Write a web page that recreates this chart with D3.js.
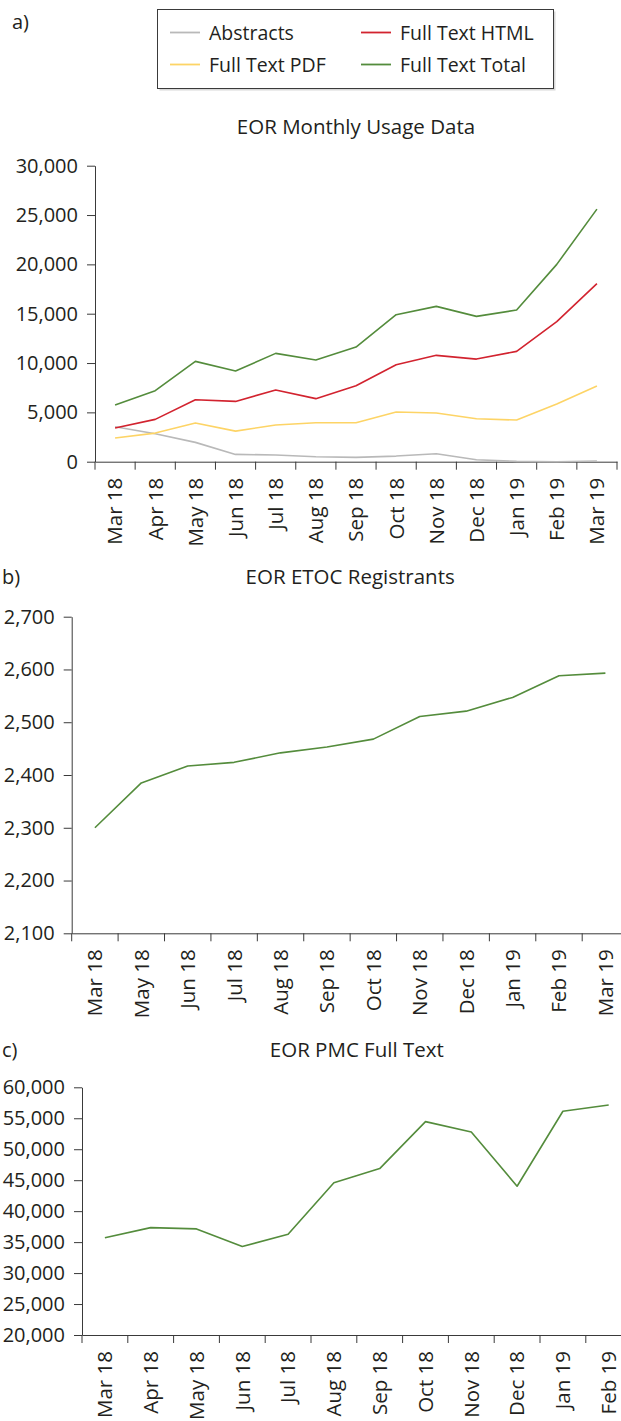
<!DOCTYPE html>
<html>
<head>
<meta charset="utf-8">
<script src="https://cdn.jsdelivr.net/npm/d3@7"></script>
<style>
    body { margin: 0; background: #fff; }
    svg { display: block; font-family: "Open Sans", sans-serif; }
    .axis path, .axis line { stroke: #3a3a3a; }
    .axis text { fill: #231f20; font-size: 20px; font-family: "Open Sans", sans-serif; }
</style>
</head>
<body>
<svg id="chart" width="621" height="1421"></svg>
<script>
// panel a: monthly usage
const usageMonths = ["Mar 18", "Apr 18", "May 18", "Jun 18", "Jul 18", "Aug 18", "Sep 18",
    "Oct 18", "Nov 18", "Dec 18", "Jan 19", "Feb 19", "Mar 19"];
const abstracts = [3550, 2840, 1960, 740, 680, 500, 440, 570, 810, 200, 30, 0, 70];
const fullTextHtml = [3410, 4290, 6280, 6110, 7260, 6390, 7700, 9830, 10780, 10400, 11180, 14190, 18040];
const fullTextPdf = [2400, 2900, 3920, 3100, 3720, 3950, 3950, 5030, 4930, 4360, 4220, 5840, 7670];
const fullTextTotal = [5750, 7200, 10170, 9190, 10980, 10300, 11620, 14900, 15740, 14730, 15370, 20000, 25600];
const usageTicks = [0, 5000, 10000, 15000, 20000, 25000, 30000];

const seriesNames = ["Abstracts", "Full Text HTML", "Full Text PDF", "Full Text Total"];
const seriesColors = ["#b9b9b9", "#d2232f", "#fdd466", "#548c3c"];

// panel b: ETOC registrants
const etocMonths = ["Mar 18", "May 18", "Jun 18", "Jul 18", "Aug 18", "Sep 18",
    "Oct 18", "Nov 18", "Dec 18", "Jan 19", "Feb 19", "Mar 19"];
const etocValues = [2300, 2385, 2417, 2424, 2442, 2453, 2468, 2511, 2521, 2547, 2588, 2593];
const etocTicks = [2100, 2200, 2300, 2400, 2500, 2600, 2700];

// panel c: PMC full text
const pmcMonths = ["Mar 18", "Apr 18", "May 18", "Jun 18", "Jul 18", "Aug 18", "Sep 18",
    "Oct 18", "Nov 18", "Dec 18", "Jan 19", "Feb 19"];
const pmcValues = [35700, 37340, 37130, 34300, 36270, 44600, 46870, 54460, 52790, 44020, 56130, 57150];
const pmcTicks = [20000, 25000, 30000, 35000, 40000, 45000, 50000, 55000, 60000];

const svg = d3.select("#chart");
const fmt = d3.format(",");

const drawPanel = (opts) => {
    const g = svg.append("g");
    const x = d3.scaleBand().domain(opts.months).range([opts.left, opts.right]);
    const y = d3.scaleLinear().domain(opts.domain).range([opts.bottom, opts.top]);

    // panel letter and title
    g.append("text")
        .attr("x", opts.letterX)
        .attr("y", opts.letterY)
        .attr("font-size", 20)
        .attr("fill", "#231f20")
        .text(opts.letter);
    g.append("text")
        .attr("x", (opts.left + opts.right) / 2)
        .attr("y", opts.titleY)
        .attr("text-anchor", "middle")
        .attr("font-size", 20.5)
        .attr("fill", "#231f20")
        .text(opts.title);

    // y axis
    g.append("g")
        .attr("class", "axis")
        .attr("transform", `translate(${opts.left},0)`)
        .call(d3.axisLeft(y).tickValues(opts.ticks).tickFormat(fmt)
            .tickSize(8).tickSizeOuter(0).tickPadding(9));

    // x axis, labels centred on bands, ticks on band edges
    const xAxis = g.append("g")
        .attr("class", "axis")
        .attr("transform", `translate(0,${opts.bottom})`)
        .call(d3.axisBottom(x).tickSize(0).tickSizeOuter(0));
    xAxis.selectAll(".tick text")
        .attr("transform", "rotate(-90)")
        .attr("x", -16)
        .attr("y", 0)
        .attr("dy", "0.36em")
        .style("font-size", "20.5px")
        .style("text-anchor", "end");
    const edges = opts.months.map((m) => x(m)).concat([opts.right]);
    xAxis.selectAll(".edge")
        .data(edges)
        .join("line")
        .attr("class", "edge")
        .attr("x1", (d) => d)
        .attr("x2", (d) => d)
        .attr("y1", 0)
        .attr("y2", 8)
        .attr("stroke", "#3a3a3a");

    const line = d3.line()
        .x((d, i) => x(opts.months[i]) + x.bandwidth() / 2)
        .y((d) => y(d));

    opts.series.forEach((s) => {
        g.append("path")
            .datum(s.values)
            .attr("d", line)
            .attr("fill", "none")
            .attr("stroke", s.color)
            .attr("stroke-width", 1.6)
            .attr("stroke-linejoin", "round");
    });
    return g;
};

// legend for panel a
const legend = svg.append("g");
legend.append("rect")
    .attr("x", 159.5)
    .attr("y", 11.5)
    .attr("width", 396)
    .attr("height", 79)
    .attr("fill", "#d8d8d8");
legend.append("rect")
    .attr("x", 157.5)
    .attr("y", 9.5)
    .attr("width", 396)
    .attr("height", 79)
    .attr("fill", "#fff")
    .attr("stroke", "#3a3a3a")
    .attr("stroke-width", 1);
const legendOrder = [0, 1, 2, 3];
legendOrder.forEach((k, i) => {
    const col = i % 2, row = Math.floor(i / 2);
    const lx = col === 0 ? 170 : 361;
    const ly = row === 0 ? 32.5 : 64.5;
    legend.append("line")
        .attr("x1", lx).attr("x2", lx + 30)
        .attr("y1", ly).attr("y2", ly)
        .attr("stroke", seriesColors[k])
        .attr("stroke-width", 1.8);
    legend.append("text")
        .attr("x", lx + 39)
        .attr("y", ly)
        .attr("dy", "0.36em")
        .attr("font-size", 19.5)
        .attr("fill", "#231f20")
        .text(seriesNames[k]);
});

drawPanel({
    letter: "a)", letterX: 12, letterY: 29, title: "EOR Monthly Usage Data", titleY: 134,
    months: usageMonths, left: 95, right: 617, top: 165.7, bottom: 461.7,
    domain: [0, 30000], ticks: usageTicks,
    series: [
        { values: abstracts, color: seriesColors[0] },
        { values: fullTextPdf, color: seriesColors[2] },
        { values: fullTextHtml, color: seriesColors[1] },
        { values: fullTextTotal, color: seriesColors[3] },
    ],
});

drawPanel({
    letter: "b)", letterX: 2, letterY: 584, title: "EOR ETOC Registrants", titleY: 584,
    months: etocMonths, left: 71.7, right: 628.6, top: 616.7, bottom: 933.3,
    domain: [2100, 2700], ticks: etocTicks,
    series: [{ values: etocValues, color: seriesColors[3] }],
});

drawPanel({
    letter: "c)", letterX: 2, letterY: 1057, title: "EOR PMC Full Text", titleY: 1057,
    months: pmcMonths, left: 82, right: 631.6, top: 1087.3, bottom: 1335,
    domain: [20000, 60000], ticks: pmcTicks,
    series: [{ values: pmcValues, color: seriesColors[3] }],
});
</script>
</body>
</html>
